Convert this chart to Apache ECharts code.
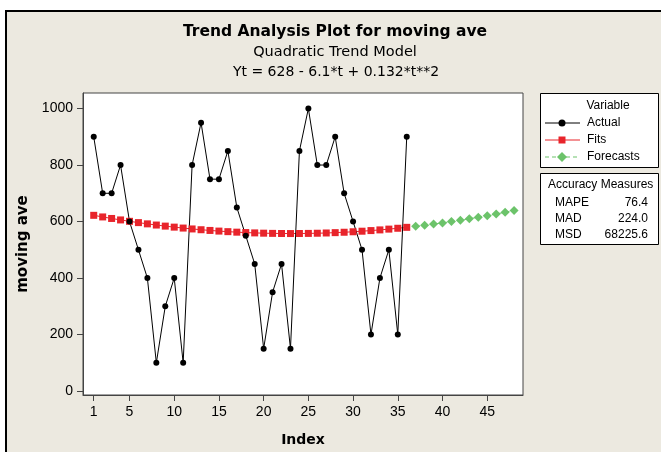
<!DOCTYPE html>
<html>
<head>
<meta charset="utf-8">
<script src="https://cdn.jsdelivr.net/npm/echarts@6/dist/echarts.min.js"></script>
<style>
  html, body { margin: 0; padding: 0; background: #fff; }
  .frame {
    position: absolute; left: 5px; top: 10px; width: 700px; height: 500px;
    border: 2px solid #000; background: #ECE9E0;
  }
  #trendChart { position: absolute; left: 0; top: 0; width: 661px; height: 452px; }
</style>
</head>
<body>
<div class="frame"></div>
<div id="trendChart"></div>
<script>
// moving ave, t = 1..36
const actualData = [900, 700, 700, 800, 600, 500, 400, 100, 300, 400, 100, 800,
  950, 750, 750, 850, 650, 550, 450, 150, 350, 450, 150, 850,
  1000, 800, 800, 900, 700, 600, 500, 200, 400, 500, 200, 900];
// fitted trend values, t = 1..36
const fitsData = [622.0, 616.3, 610.9, 605.7, 600.8, 596.2, 591.8, 587.6, 583.8, 580.2,
  576.9, 573.8, 571.0, 568.5, 566.2, 564.2, 562.4, 561.0, 559.8, 558.8,
  558.1, 557.7, 557.5, 557.6, 558.0, 558.6, 559.5, 560.7, 562.1, 563.8,
  565.8, 568.0, 570.4, 573.2, 576.2, 579.5];
// forecasts, t = 37..48
const forecastData = [583.0, 586.8, 590.9, 595.2, 599.8, 604.6, 609.8, 615.2, 620.8, 626.7, 632.9, 639.3];
const forecastStart = 37;
const xTicks = [1, 5, 10, 15, 20, 25, 30, 35, 40, 45];
const yTicks = [0, 200, 400, 600, 800, 1000];
const accuracyRows = [["MAPE", "76.4"], ["MAD", "224.0"], ["MSD", "68225.6"]];

const FONT = "Liberation Sans";
const WIDE = "DejaVu Sans";

function toPairs(arr, start) {
  return arr.map((v, i) => [start + i, v]);
}

var myChart = echarts.init(document.getElementById("trendChart"));

// titles, legend box, accuracy box
let graphic = [
  { type: "text", x: 335, y: 32, style: { text: "Trend Analysis Plot for moving ave", font: "bold 15.5px " + WIDE, fill: "#000", align: "center", verticalAlign: "middle" } },
  { type: "text", x: 335, y: 52, style: { text: "Quadratic Trend Model", font: "14.5px " + WIDE, fill: "#000", align: "center", verticalAlign: "middle" } },
  { type: "text", x: 336, y: 72, style: { text: "Yt = 628 - 6.1*t + 0.132*t**2", font: "14px " + WIDE, fill: "#000", align: "center", verticalAlign: "middle" } },

  { type: "rect", shape: { x: 540.5, y: 93.5, width: 118, height: 74 }, style: { fill: "#fff", stroke: "#000", lineWidth: 1 } },
  { type: "text", x: 608, y: 106, style: { text: "Variable", font: "12px " + FONT, fill: "#000", align: "center", verticalAlign: "middle" } },

  { type: "line", shape: { x1: 545, y1: 123, x2: 580, y2: 123 }, style: { stroke: "#000", lineWidth: 1 } },
  { type: "circle", shape: { cx: 562, cy: 123, r: 3.5 }, style: { fill: "#000" } },
  { type: "text", x: 587, y: 123, style: { text: "Actual", font: "12px " + FONT, fill: "#000", verticalAlign: "middle" } },

  { type: "line", shape: { x1: 545, y1: 140, x2: 580, y2: 140 }, style: { stroke: "#E8242B", lineWidth: 1 } },
  { type: "rect", shape: { x: 558.5, y: 136.5, width: 7, height: 7 }, style: { fill: "#E8242B" } },
  { type: "text", x: 587, y: 140, style: { text: "Fits", font: "12px " + FONT, fill: "#000", verticalAlign: "middle" } },

  { type: "line", shape: { x1: 545, y1: 157, x2: 580, y2: 157 }, style: { stroke: "#6CC36A", lineWidth: 1, lineDash: [4, 3] } },
  { type: "polygon", shape: { points: [[562, 152], [567, 157], [562, 162], [557, 157]] }, style: { fill: "#6CC36A" } },
  { type: "text", x: 587, y: 157, style: { text: "Forecasts", font: "12px " + FONT, fill: "#000", verticalAlign: "middle" } },

  { type: "rect", shape: { x: 540.5, y: 173.5, width: 118, height: 71 }, style: { fill: "#fff", stroke: "#000", lineWidth: 1 } },
  { type: "text", x: 548, y: 185, style: { text: "Accuracy Measures", font: "12px " + FONT, fill: "#000", verticalAlign: "middle" } },
];
accuracyRows.forEach((row, i) => {
  graphic.push({ type: "text", x: 555, y: 203 + i * 16, style: { text: row[0], font: "12px " + FONT, fill: "#000", verticalAlign: "middle" } });
  graphic.push({ type: "text", x: 648, y: 203 + i * 16, style: { text: row[1], font: "12px " + FONT, fill: "#000", align: "right", verticalAlign: "middle" } });
});

let option = {
  animation: false,
  backgroundColor: "transparent",
  textStyle: { fontFamily: FONT },
  grid: {
    left: 83,
    right: 138,
    top: 93,
    bottom: 49,
    show: true,
    backgroundColor: "#fff",
    borderColor: "#444",
    borderWidth: 1,
  },
  xAxis: {
    type: "value",
    min: -0.2,
    max: 49,
    name: "Index",
    nameLocation: "middle",
    nameGap: 38,
    nameTextStyle: { color: "#000", fontSize: 14, fontWeight: "bold", fontFamily: WIDE },
    splitLine: { show: false },
    axisLine: { show: true, onZero: false, lineStyle: { color: "#444" } },
    axisTick: { show: true, length: 6, customValues: xTicks, lineStyle: { color: "#444" } },
    axisLabel: { customValues: xTicks, color: "#000", fontSize: 14, margin: 10, fontFamily: FONT },
  },
  yAxis: {
    type: "value",
    min: -14,
    max: 1055,
    name: "moving ave",
    nameLocation: "middle",
    nameGap: 52,
    nameRotate: 90,
    nameTextStyle: { color: "#000", fontSize: 15, fontWeight: "bold", fontFamily: WIDE },
    splitLine: { show: false },
    axisLine: { show: true, onZero: false, lineStyle: { color: "#444" } },
    axisTick: { show: true, length: 6, customValues: yTicks, lineStyle: { color: "#444" } },
    axisLabel: {
      customValues: yTicks,
      color: "#000",
      fontSize: 14,
      margin: 10,
      fontFamily: FONT,
      formatter: function (value) {
        return String(value);
      },
    },
  },
  graphic: graphic,
  series: [
    {
      name: "Forecasts",
      type: "line",
      data: toPairs(forecastData, forecastStart),
      symbol: "diamond",
      symbolSize: 9,
      itemStyle: { color: "#6CC36A" },
      lineStyle: { color: "#6CC36A", width: 1, type: [4, 3] },
    },
    {
      name: "Fits",
      type: "line",
      data: toPairs(fitsData, 1),
      symbol: "rect",
      symbolSize: 7,
      itemStyle: { color: "#E8242B" },
      lineStyle: { color: "#E8242B", width: 1 },
    },
    {
      name: "Actual",
      type: "line",
      data: toPairs(actualData, 1),
      symbol: "circle",
      symbolSize: 6,
      z: 3,
      itemStyle: { color: "#000" },
      lineStyle: { color: "#000", width: 1 },
    },
  ],
};

myChart.setOption(option);
</script>
</body>
</html>
